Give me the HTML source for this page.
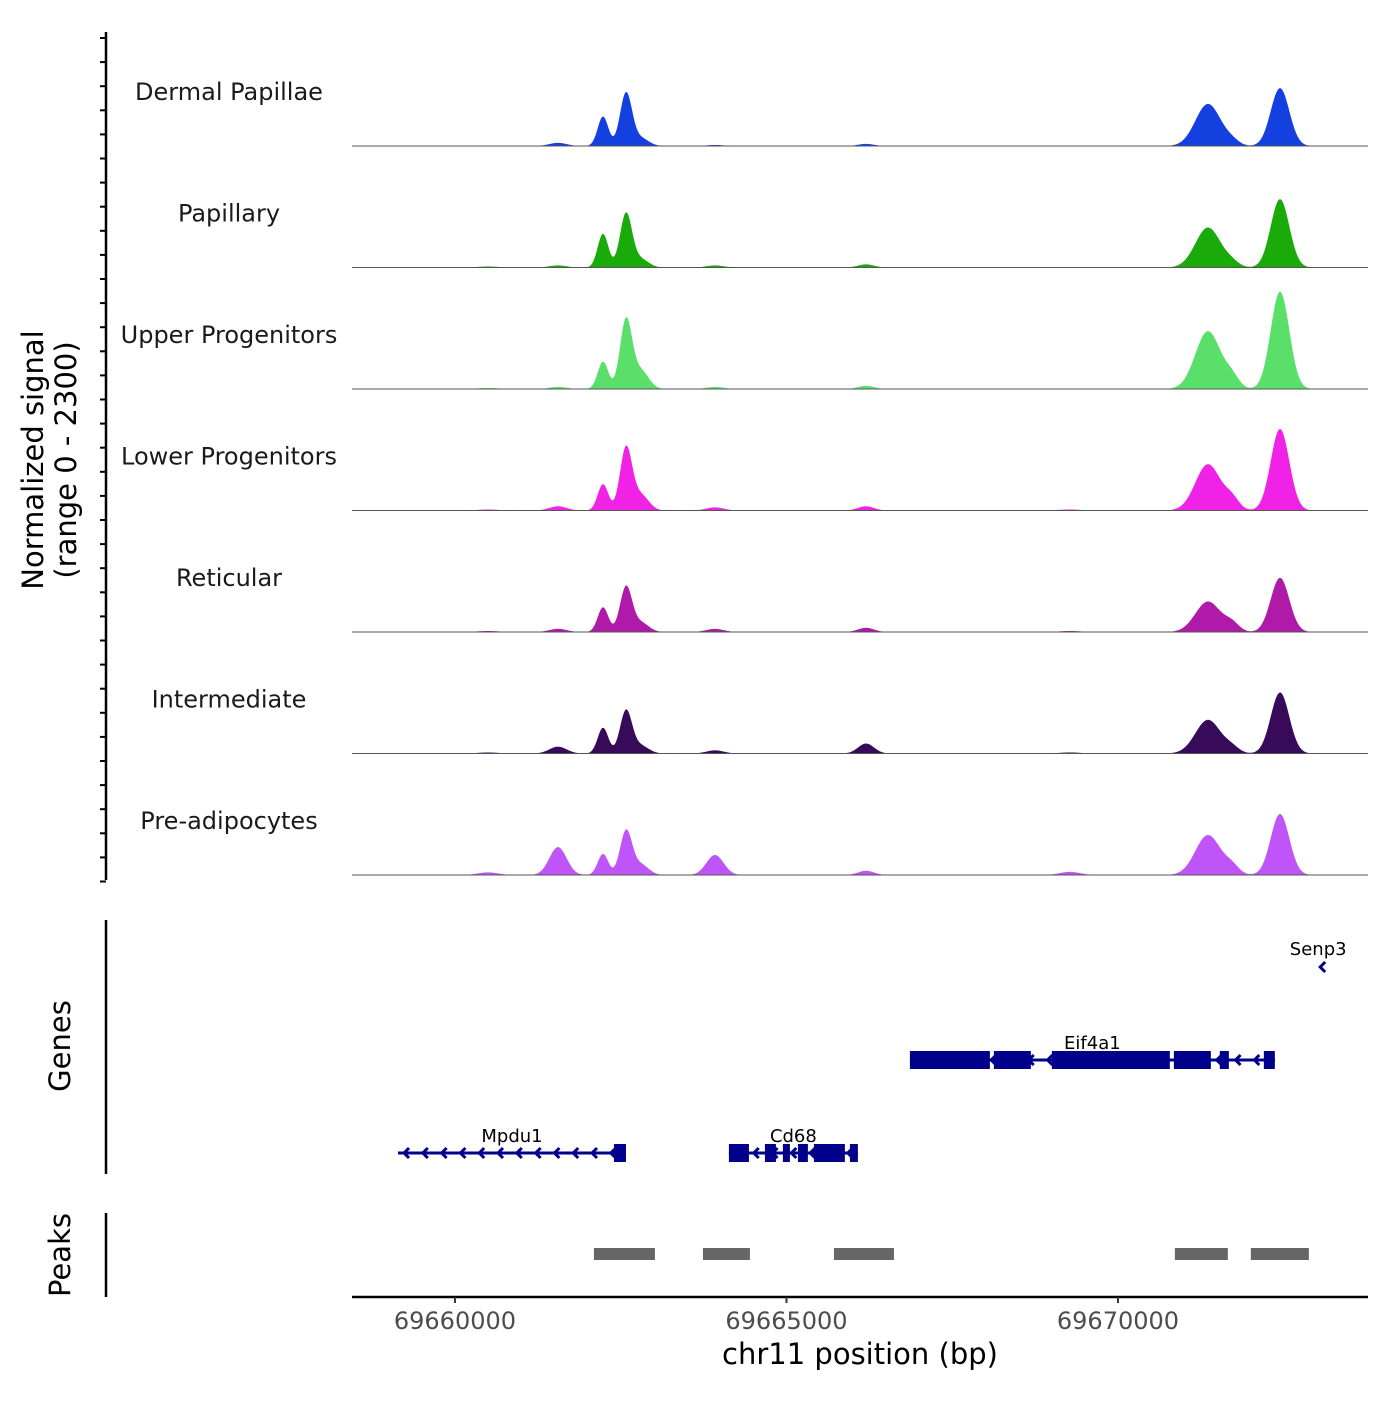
<!DOCTYPE html>
<html><head><meta charset="utf-8"><style>
body{margin:0;background:#fff}
svg text{font-family:"DejaVu Sans","Liberation Sans",sans-serif}
</style></head><body>
<svg id="c" width="1400" height="1400" viewBox="0 0 1400 1400" xmlns="http://www.w3.org/2000/svg">
<text x="56" y="460" font-size="29" text-anchor="middle" transform="rotate(-90 56 460)"><tspan x="56" dy="-13">Normalized signal</tspan><tspan x="56" dy="33">(range 0 - 2300)</tspan></text>
<text x="70" y="1046" font-size="29" text-anchor="middle" transform="rotate(-90 70 1046)">Genes</text>
<text x="70" y="1255" font-size="29" text-anchor="middle" transform="rotate(-90 70 1255)">Peaks</text>
<line x1="106" y1="32" x2="106" y2="880" stroke="#000" stroke-width="2.5"/>
<line x1="106" y1="920" x2="106" y2="1174" stroke="#000" stroke-width="2.5"/>
<line x1="106" y1="1213" x2="106" y2="1297" stroke="#000" stroke-width="2.5"/>
<line x1="352" y1="1297" x2="1368" y2="1297" stroke="#000" stroke-width="2.5"/>
<text x="860" y="1364" font-size="29" text-anchor="middle">chr11 position (bp)</text>
<g id="g"></g>
</svg>
<script>
const trackNames=["Dermal Papillae","Papillary","Upper Progenitors","Lower Progenitors","Reticular","Intermediate","Pre-adipocytes"];
const trackColors=["#1540e0","#1aab0a","#5adf6a","#ef22e6","#b01aa8","#380a5a","#bf55f8"];
const peakCenters=[69661554,69662233,69662580,69663922,69666200,69671358,69671720,69672444,69660498,69669275,69662800];
const peakSigmas=[130,80,90,130,120,190,110,140,150,150,120];
const dermalPapillae=[60,560,1000,20,40,800,80,1100,10,10,150];
const papillary=[40,640,1020,40,60,760,80,1300,20,10,160];
const upperProgenitors=[40,520,1300,40,60,1100,200,1850,20,10,350];
const lowerProgenitors=[80,500,1180,60,80,880,200,1550,20,20,300];
const reticular=[60,470,850,60,80,580,150,1030,20,20,180];
const intermediate=[130,490,810,60,190,640,100,1160,20,20,150];
const preAdipocytes=[530,400,830,380,80,760,150,1160,50,60,200];
const seriesValues=[dermalPapillae,papillary,upperProgenitors,lowerProgenitors,reticular,intermediate,preAdipocytes];
const xTicks=[69660000,69665000,69670000];
const genes=[
 {name:"Mpdu1",start:69659141,end:69662579,row:1,exons:[[69662398,69662579]]},
 {name:"Cd68",start:69664132,end:69666077,row:1,exons:[[69664132,69664434],[69664675,69664841],[69664946,69665052],[69665173,69665323],[69665414,69665881],[69665957,69666077]]},
 {name:"Eif4a1",start:69666862,end:69672366,row:0,exons:[[69666862,69668068],[69668128,69668686],[69669003,69670782],[69670843,69671401],[69671536,69671672],[69672200,69672366]]},
 {name:"Senp3",start:69673050,end:69673150,row:-1,exons:[]}
];
const peakRegions=[[69662096,69663016],[69663740,69664449],[69665716,69666621],[69670858,69671657],[69672004,69672879]];
const X0=69658447,X1=69673771,PX0=352,PX1=1368,MAXV=2300,TH=121;
const x=bp=>PX0+(bp-X0)/(X1-X0)*(PX1-PX0);
const NS="http://www.w3.org/2000/svg",g=document.getElementById('g');
function el(t,a,p){const e=document.createElementNS(NS,t);for(const k in a)e.setAttribute(k,a[k]);(p||g).appendChild(e);return e;}
for(let i=0;i<36;i++){const y=38+i*24.1;const t=el('line',{x1:100,x2:106,y1:y,y2:y,stroke:'#000','stroke-width':2});

}
seriesValues.forEach((vals,ti)=>{
 const base=146+ti*121.5;
 let d=`M${PX0},${base}`;
 for(let px=PX0;px<=PX1;px+=1){
  const bp=X0+(px-PX0)/(PX1-PX0)*(X1-X0);
  let v=0;peakCenters.forEach((c,i)=>{const z=(bp-c)/peakSigmas[i];v+=vals[i]*Math.exp(-0.5*z*z);});
  d+=`L${px},${(base-v/MAXV*TH).toFixed(2)}`;
 }
 d+=`L${PX1},${base}Z`;
 const p=el('path',{d:d,fill:trackColors[ti]});
 
 
 const b=el('line',{x1:PX0,x2:PX1,y1:base,y2:base,stroke:'#555','stroke-width':1});
 
 
 const t=el('text',{x:229,y:base-46,'font-size':24,'text-anchor':'middle',fill:'#1a1a1a'});
 t.textContent=trackNames[ti];
 
 
});
const GC="#00008b";
genes.forEach(gn=>{
 const y=gn.row===0?1060:gn.row===1?1153:967;
 const x1=x(gn.start),x2=x(gn.end);
 const grp=el('g',{});
 
 
 if(gn.row!==-1){
  el('line',{x1:x1,x2:x2,y1:y,y2:y,stroke:GC,'stroke-width':3},grp);
  for(let ax=x1+6;ax<x2-10;ax+=18.8)el('path',{d:`M${ax+5},${y-5}L${ax},${y}L${ax+5},${y+5}`,stroke:GC,'stroke-width':3,fill:'none'},grp);
  gn.exons.forEach(e=>el('rect',{x:x(e[0]),y:y-9,width:Math.max(2,x(e[1])-x(e[0])),height:18,fill:GC},grp));
  const t=el('text',{x:(x1+x2)/2,y:y-11,'font-size':18,'text-anchor':'middle'},grp);t.textContent=gn.name;
 } else {
  el('path',{d:`M${x1+5},${y-5}L${x1},${y}L${x1+5},${y+5}`,stroke:GC,'stroke-width':3,fill:'none'},grp);
  const t=el('text',{x:x1-2,y:955,'font-size':18,'text-anchor':'middle'},grp);t.textContent=gn.name;
 }
});
peakRegions.forEach(r=>{const p=el('rect',{x:x(r[0]),y:1248,width:x(r[1])-x(r[0]),height:12,fill:'#666'});

});
xTicks.forEach(v=>{
 const l=el('line',{x1:x(v),x2:x(v),y1:1297,y2:1303,stroke:'#333','stroke-width':2});
 
 
 const t=el('text',{x:x(v),y:1329,'font-size':24,'text-anchor':'middle',fill:'#4d4d4d'});
 t.textContent=v;
 
 
});
</script>
</body></html>
